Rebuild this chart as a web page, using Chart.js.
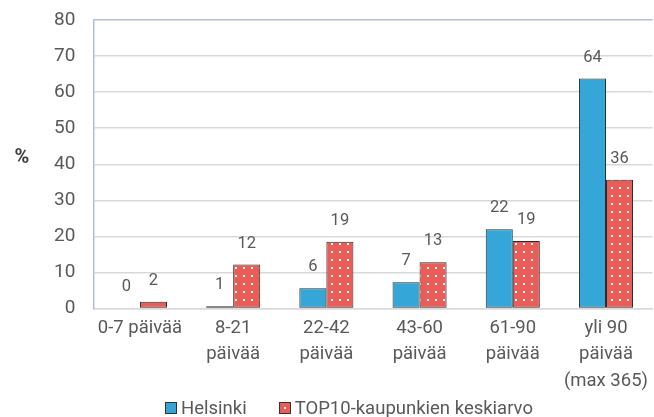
<!DOCTYPE html>
<html>
<head>
<meta charset="utf-8">
<script src="https://cdn.jsdelivr.net/npm/chart.js@4.4.1/dist/chart.umd.min.js"></script>
<style>
  html, body { margin: 0; padding: 0; background: #ffffff; }
  #wrap { position: relative; width: 654px; height: 417px; }
  #legend { position: absolute; left: 165px; top: 397px; display: flex; align-items: center;
            font-family: Roboto, "Liberation Sans", sans-serif; font-size: 18.5px; color: #595959; }
  .item { display: flex; align-items: center; }
  .box { width: 10px; height: 10px; border: 1px solid #333; margin-right: 4px; }
  .b1 { background: #35A6D8; }
  .b2 { background: #E95C58 radial-gradient(circle, #ffffff 0 1.2px, transparent 1.3px) center/12px 12px no-repeat; }
</style>
</head>
<body>
<div id="wrap">
  <canvas id="c" width="654" height="417"></canvas>
  <div id="legend"></div>
</div>
<script>
const categories = [["0-7 päivää"], ["8-21", "päivää"], ["22-42", "päivää"], ["43-60", "päivää"], ["61-90", "päivää"], ["yli 90", "päivää", "(max 365)"]];
const helsinki = [0.2, 0.6, 5.6, 7.3, 22.0, 63.8];
const top10 = [1.9, 12.2, 18.5, 12.8, 18.7, 35.7];
const seriesNames = ["Helsinki", "TOP10-kaupunkien keskiarvo"];
const yTicks = [0, 10, 20, 30, 40, 50, 60, 70, 80];

const FONT = 'Roboto, "Liberation Sans", sans-serif';
const GRAY = '#595959';

function makePattern() {
  const p = document.createElement('canvas');
  p.width = 8; p.height = 8;
  const g = p.getContext('2d');
  g.fillStyle = '#E95C58';
  g.fillRect(0, 0, 8, 8);
  g.fillStyle = '#FFFFFF';
  g.fillRect(3, 3, 2, 2);
  return g.createPattern(p, 'repeat');
}

const valueLabels = {
  id: 'valueLabels',
  afterDatasetsDraw(chart) {
    const ctx = chart.ctx;
    ctx.save();
    ctx.font = '16.5px ' + FONT;
    ctx.fillStyle = GRAY;
    ctx.textAlign = 'center';
    ctx.textBaseline = 'middle';
    chart.data.datasets.forEach((ds, i) => {
      const meta = chart.getDatasetMeta(i);
      meta.data.forEach((el, j) => {
        ctx.fillText(String(Math.round(ds.data[j])), el.x, el.y - 21);
      });
    });
    ctx.restore();
  }
};

const yTitle = {
  id: 'yTitle',
  afterDraw(chart) {
    const ctx = chart.ctx;
    const a = chart.chartArea;
    ctx.save();
    ctx.font = 'bold 20px ' + FONT;
    ctx.fillStyle = '#404040';
    ctx.textAlign = 'center';
    ctx.textBaseline = 'middle';
    ctx.fillText('%', 22, (a.top + a.bottom) / 2 - 6);
    ctx.restore();
  }
};

new Chart(document.getElementById('c'), {
  type: 'bar',
  data: {
    labels: categories,
    datasets: [
      { label: seriesNames[0], data: helsinki, backgroundColor: '#35A6D8',
        borderColor: '#2b2b2b', borderWidth: 1, borderSkipped: false },
      { label: seriesNames[1], data: top10, backgroundColor: makePattern(),
        borderColor: '#2b2b2b', borderWidth: 1, borderSkipped: false }
    ]
  },
  options: {
    responsive: false,
    animation: false,
    layout: { padding: { left: 36, right: 0, top: 0, bottom: 16 } },
    categoryPercentage: 0.58,
    barPercentage: 1.0,
    plugins: { legend: { display: false }, tooltip: { enabled: false } },
    scales: {
      x: {
        grid: { display: false, drawTicks: false },
        border: { color: '#D9D9D9', width: 1.5 },
        ticks: { color: GRAY, font: { size: 18.5, family: FONT, lineHeight: 1.45 }, padding: 6, maxRotation: 0, autoSkip: false }
      },
      y: {
        min: 0, max: 80,
        afterBuildTicks(scale) { scale.ticks = yTicks.map(v => ({ value: v })); },
        afterFit(scale) { scale.paddingTop = 20; scale.paddingBottom = 12; },
        grid: { color: ctx => (ctx.tick && ctx.tick.value === 80) ? '#A9C0E0' : '#D9D9D9', lineWidth: 1.5, drawTicks: false },
        border: { color: '#A9C0E0', width: 1.5 },
        ticks: { color: GRAY, font: { size: 19, family: FONT }, padding: 18 }
      }
    }
  },
  plugins: [valueLabels, yTitle]
});

const leg = document.getElementById('legend');
seriesNames.forEach((n, i) => {
  const it = document.createElement('div');
  it.className = 'item';
  if (i > 0) it.style.marginLeft = '32px';
  const b = document.createElement('div');
  b.className = 'box ' + (i === 0 ? 'b1' : 'b2');
  const t = document.createElement('span');
  t.textContent = n;
  it.appendChild(b); it.appendChild(t);
  leg.appendChild(it);
});
</script>
</body>
</html>
